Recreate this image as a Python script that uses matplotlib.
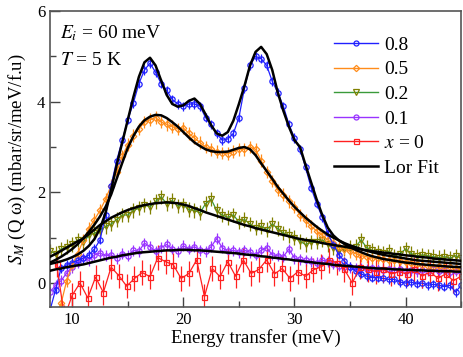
import numpy as np
import matplotlib
matplotlib.use('Agg')
import matplotlib.pyplot as plt
from matplotlib.lines import Line2D
from matplotlib.ticker import MultipleLocator

plt.rcParams['font.family'] = ['Liberation Serif', 'DejaVu Serif']
plt.rcParams['mathtext.fontset'] = 'stix'

# energy grid of the dense data sets (meV)
energy = np.arange(75) * 0.5 + 8.0

# x = 0.8
s08 = [-0.6, -0.15, 0.33, 0.40, 0.45, 0.50, 0.55, 0.62, 0.75, 0.95,
       1.5, 2.15, 2.7, 3.15, 3.6, 3.97, 4.4, 4.7, 4.85, 4.65,
       4.4, 4.25, 4.05, 3.95, 3.9, 3.95, 3.95, 3.9, 3.65, 3.5,
       3.3, 3.15, 3.18, 3.3, 3.65, 4.3, 4.8, 5.0, 4.95, 4.8,
       4.45, 4.2, 3.9, 3.5, 3.2, 2.95, 2.55, 2.1, 1.75, 1.45,
       1.1, 0.84, 0.62, 0.48, 0.36, 0.26, 0.2, 0.15, 0.12, 0.12,
       0.1, 0.08, 0.08, 0.02, 0.0, 0.02, -0.02, 0.0, -0.05, -0.03,
       -0.05, -0.08, -0.05, -0.2, -0.05]
fit08 = [0.42, 0.45, 0.48, 0.52, 0.57, 0.63, 0.71, 0.82, 0.97, 1.2,
         1.55, 2.05, 2.6, 3.1, 3.6, 4.1, 4.55, 4.87, 4.97, 4.8,
         4.47, 4.15, 3.95, 3.89, 3.92, 4.02, 4.07, 3.95, 3.72, 3.48,
         3.3, 3.25, 3.33, 3.58, 3.95, 4.35, 4.8, 5.1, 5.21, 5.05,
         4.7, 4.2, 3.8, 3.45, 3.15, 3.0, 2.6, 2.22, 1.84, 1.5,
         1.22, 1.05, 0.94, 0.86, 0.79, 0.73, 0.68, 0.63, 0.59, 0.56,
         0.53, 0.51, 0.49, 0.47, 0.45, 0.44, 0.42, 0.41, 0.40, 0.39,
         0.38, 0.37, 0.36, 0.355, 0.35]

# x = 0.5
s05 = [-0.9, -0.7, -0.45, 0.05, 0.4, 0.65, 0.95, 1.2, 1.4, 1.6,
       1.85, 2.15, 2.45, 2.8, 3.05, 3.25, 3.4, 3.55, 3.6, 3.65,
       3.55, 3.5, 3.45, 3.4, 3.42, 3.3, 3.2, 3.1, 3.0, 2.95,
       2.9, 2.87, 2.85, 2.9, 2.95, 2.95, 3.0, 2.95, 2.7, 2.45,
       2.25, 2.05, 1.95, 1.8, 1.68, 1.5, 1.38, 1.25, 1.15, 1.05,
       0.95, 0.88, 0.8, 0.75, 0.7, 0.65, 0.6, 0.58, 0.55, 0.55,
       0.52, 0.5, 0.5, 0.48, 0.47, 0.45, 0.42, 0.4, 0.38, 0.36,
       0.37, 0.35, 0.36, 0.33, 0.3]
fit05 = [0.45, 0.51, 0.58, 0.66, 0.75, 0.86, 0.99, 1.13, 1.29, 1.47,
         1.68, 1.95, 2.3, 2.65, 2.98, 3.24, 3.45, 3.59, 3.67, 3.71,
         3.7, 3.64, 3.55, 3.45, 3.33, 3.21, 3.1, 3.02, 2.95, 2.91,
         2.89, 2.89, 2.9, 2.94, 2.98, 3.0, 2.95, 2.82, 2.64, 2.47,
         2.3, 2.12, 1.97, 1.82, 1.68, 1.56, 1.44, 1.34, 1.24, 1.15,
         1.07, 1.0, 0.94, 0.88, 0.83, 0.79, 0.75, 0.71, 0.68, 0.65,
         0.62, 0.6, 0.58, 0.56, 0.54, 0.52, 0.5, 0.49, 0.48, 0.47,
         0.46, 0.45, 0.44, 0.43, 0.42]

# x = 0.2
s02 = [0.7, 0.65, 0.75, 0.8, 0.85, 0.95, 0.9, 1.05, 1.1, 1.15,
       1.25, 1.3, 1.4, 1.5, 1.5, 1.6, 1.65, 1.72, 1.68, 1.8,
       1.9, 1.75, 1.82, 1.7, 1.72, 1.62, 1.6, 1.55, 1.75, 1.85,
       1.6, 1.5, 1.45, 1.5, 1.35, 1.4, 1.3, 1.22, 1.25, 1.18,
       1.3, 1.2, 1.1, 1.05, 1.0, 0.92, 0.85, 0.9, 0.9, 0.95,
       0.85, 0.78, 0.72, 0.75, 0.78, 0.8, 0.95, 0.78, 0.72, 0.68,
       0.66, 0.7, 0.6, 0.65, 0.75, 0.65, 0.6, 0.62, 0.6, 0.58,
       0.56, 0.58, 0.55, 0.6, 0.55]
fit02 = [0.58, 0.64, 0.71, 0.78, 0.85, 0.92, 0.98, 1.08, 1.18, 1.28,
         1.36, 1.44, 1.5, 1.56, 1.61, 1.65, 1.69, 1.72, 1.74, 1.76,
         1.77, 1.78, 1.77, 1.76, 1.73, 1.7, 1.65, 1.61, 1.56, 1.52,
         1.48, 1.44, 1.4, 1.36, 1.32, 1.28, 1.25, 1.21, 1.18, 1.15,
         1.12, 1.09, 1.06, 1.03, 1.0, 0.97, 0.95, 0.93, 0.91, 0.88,
         0.86, 0.84, 0.82, 0.8, 0.78, 0.76, 0.74, 0.72, 0.7, 0.69,
         0.67, 0.66, 0.64, 0.63, 0.61, 0.6, 0.58, 0.57, 0.56, 0.54,
         0.53, 0.52, 0.51, 0.5, 0.49]

# x = 0.1
s01 = [-0.2, -0.05, 0.05, 0.22, 0.35, 0.45, 0.55, 0.5, 0.62, 0.66,
       0.6, 0.62, 0.55, 0.65, 0.6, 0.72, 0.7, 0.88, 0.8, 0.7,
       0.78, 0.85, 0.75, 0.7, 0.82, 0.75, 0.8, 0.72, 0.7, 0.8,
       0.98, 0.78, 0.7, 0.72, 0.68, 0.72, 0.68, 0.62, 0.72, 0.78,
       0.62, 0.6, 0.58, 0.75, 0.55, 0.52, 0.5, 0.48, 0.45, 0.5,
       0.48, 0.42, 0.38, 0.36, 0.35, 0.32, 0.33, 0.3, 0.32, 0.3,
       0.29, 0.3, 0.28, 0.3, 0.27, 0.28, 0.26, 0.28, 0.27, 0.3,
       0.26, 0.28, 0.25, 0.27, 0.26]
fit01 = [0.27, 0.3, 0.32, 0.35, 0.37, 0.39, 0.41, 0.44, 0.47, 0.5,
         0.53, 0.56, 0.58, 0.61, 0.63, 0.65, 0.67, 0.68, 0.69, 0.7,
         0.71, 0.72, 0.72, 0.73, 0.73, 0.73, 0.72, 0.72, 0.71, 0.7,
         0.69, 0.68, 0.67, 0.66, 0.65, 0.63, 0.62, 0.61, 0.59, 0.58,
         0.56, 0.55, 0.53, 0.52, 0.5, 0.49, 0.47, 0.46, 0.44, 0.43,
         0.42, 0.4, 0.39, 0.38, 0.37, 0.36, 0.35, 0.34, 0.33, 0.32,
         0.32, 0.31, 0.3, 0.3, 0.29, 0.29, 0.28, 0.28, 0.27, 0.27,
         0.26, 0.26, 0.26, 0.25, 0.25]

# x = 0 (coarser grid)
energy0 = np.round(np.arange(53) * 0.7 + 8.6, 2)
s00 = [0.41, -0.75, -0.27, 0.0, -0.33, 0.13, -0.21, 0.35, 0.16, -0.07,
       0.1, 0.23, 0.14, 0.56, 0.47, 0.4, 0.1, 0.21, 0.51, -0.3,
       0.32, 0.14, 0.47, 0.15, 0.51, 0.21, 0.3, 0.51, 0.2, 0.32,
       0.1, 0.25, 0.15, 0.29, 0.36, 0.5, 0.45, 0.3, 0.0, 0.35,
       0.3, 0.25, 0.3, 0.2, 0.25, 0.2, 0.3, 0.15, 0.25, 0.1,
       0.2, 0.05, 0.15]

err08, err05, err02, err01, err00 = 0.1, 0.14, 0.16, 0.12, 0.27

fig = plt.figure(figsize=(4.63, 3.57), dpi=100)
ax = fig.add_axes([0.108, 0.14, 0.888, 0.829])

c08, c05, c02, c02l, c01, c00 = '#2020ff', '#ff8c1a', '#808000', '#3a9a3a', '#9933ff', '#ff2020'

def data(x, y, err, color, marker, lc=None, ms=3.6):
    ax.errorbar(x, y, yerr=err, fmt='-', color=lc or color, lw=0.9,
                ecolor=color, elinewidth=0.9, capsize=0,
                marker=marker, ms=ms, mfc='none', mec=color, mew=0.9)

data(energy, s02, err02, c02, 'v', lc=c02l, ms=4.4)
data(energy, s01, err01, c01, 'o', ms=3.8)
data(energy, s05, err05, c05, 'D', ms=3.3)
data(energy, s08, err08, c08, 'o', ms=3.8)
data(energy0, s00, err00, c00, 's', ms=3.6)

for f in (fit08, fit05, fit02, fit01):
    ax.plot(energy, f, color='black', lw=1.8, zorder=5)

ax.set_xlim(8, 45)
ax.set_ylim(-0.53, 6)
ax.xaxis.set_major_locator(MultipleLocator(10))
ax.xaxis.set_minor_locator(MultipleLocator(5))
ax.yaxis.set_major_locator(MultipleLocator(2))
ax.yaxis.set_minor_locator(MultipleLocator(1))
ax.tick_params(which='both', direction='in', top=False, right=False, labelsize=12, color='#444444')
ax.tick_params(which='major', length=7, width=1)
ax.tick_params(which='minor', length=4, width=1)
for sp in ax.spines.values():
    sp.set_color('#555555')
    sp.set_linewidth(1.2)

ax.set_xlabel('Energy transfer (meV)', fontsize=13.5, labelpad=1)
ax.set_ylabel(r'$S_M$ (Q ω) (mbar/sr/meV/f.u)', fontsize=13.5, labelpad=6)

ax.text(0.024, 0.926, r'$E_i$ = 60 meV', transform=ax.transAxes, fontsize=14, va='center')
ax.text(0.024, 0.834, r'$T$ = 5 K', transform=ax.transAxes, fontsize=14, va='center')

handles = [
    Line2D([], [], color=c08, lw=1, marker='o', ms=3.6, mfc='none', mew=0.9),
    Line2D([], [], color=c05, lw=1, marker='D', ms=3.2, mfc='none', mew=0.9),
    Line2D([], [], color=c02l, lw=1, marker='v', ms=4.2, mfc='none', mec=c02, mew=0.9),
    Line2D([], [], color=c01, lw=1, marker='o', ms=3.6, mfc='none', mew=0.9),
    Line2D([], [], color=c00, lw=1, marker='s', ms=3.6, mfc='none', mew=0.9),
    Line2D([], [], color='black', lw=1.8),
]
labels = ['0.8', '0.5', '0.2', '0.1', r'$x$ = 0', 'Lor Fit']
ax.legend(handles, labels, loc='upper left', bbox_to_anchor=(0.69, 0.915),
          frameon=False, fontsize=14, handlelength=2.3, handletextpad=0.3,
          labelspacing=0.36, borderpad=0, borderaxespad=0)

fig.savefig('out.png', dpi=100)
